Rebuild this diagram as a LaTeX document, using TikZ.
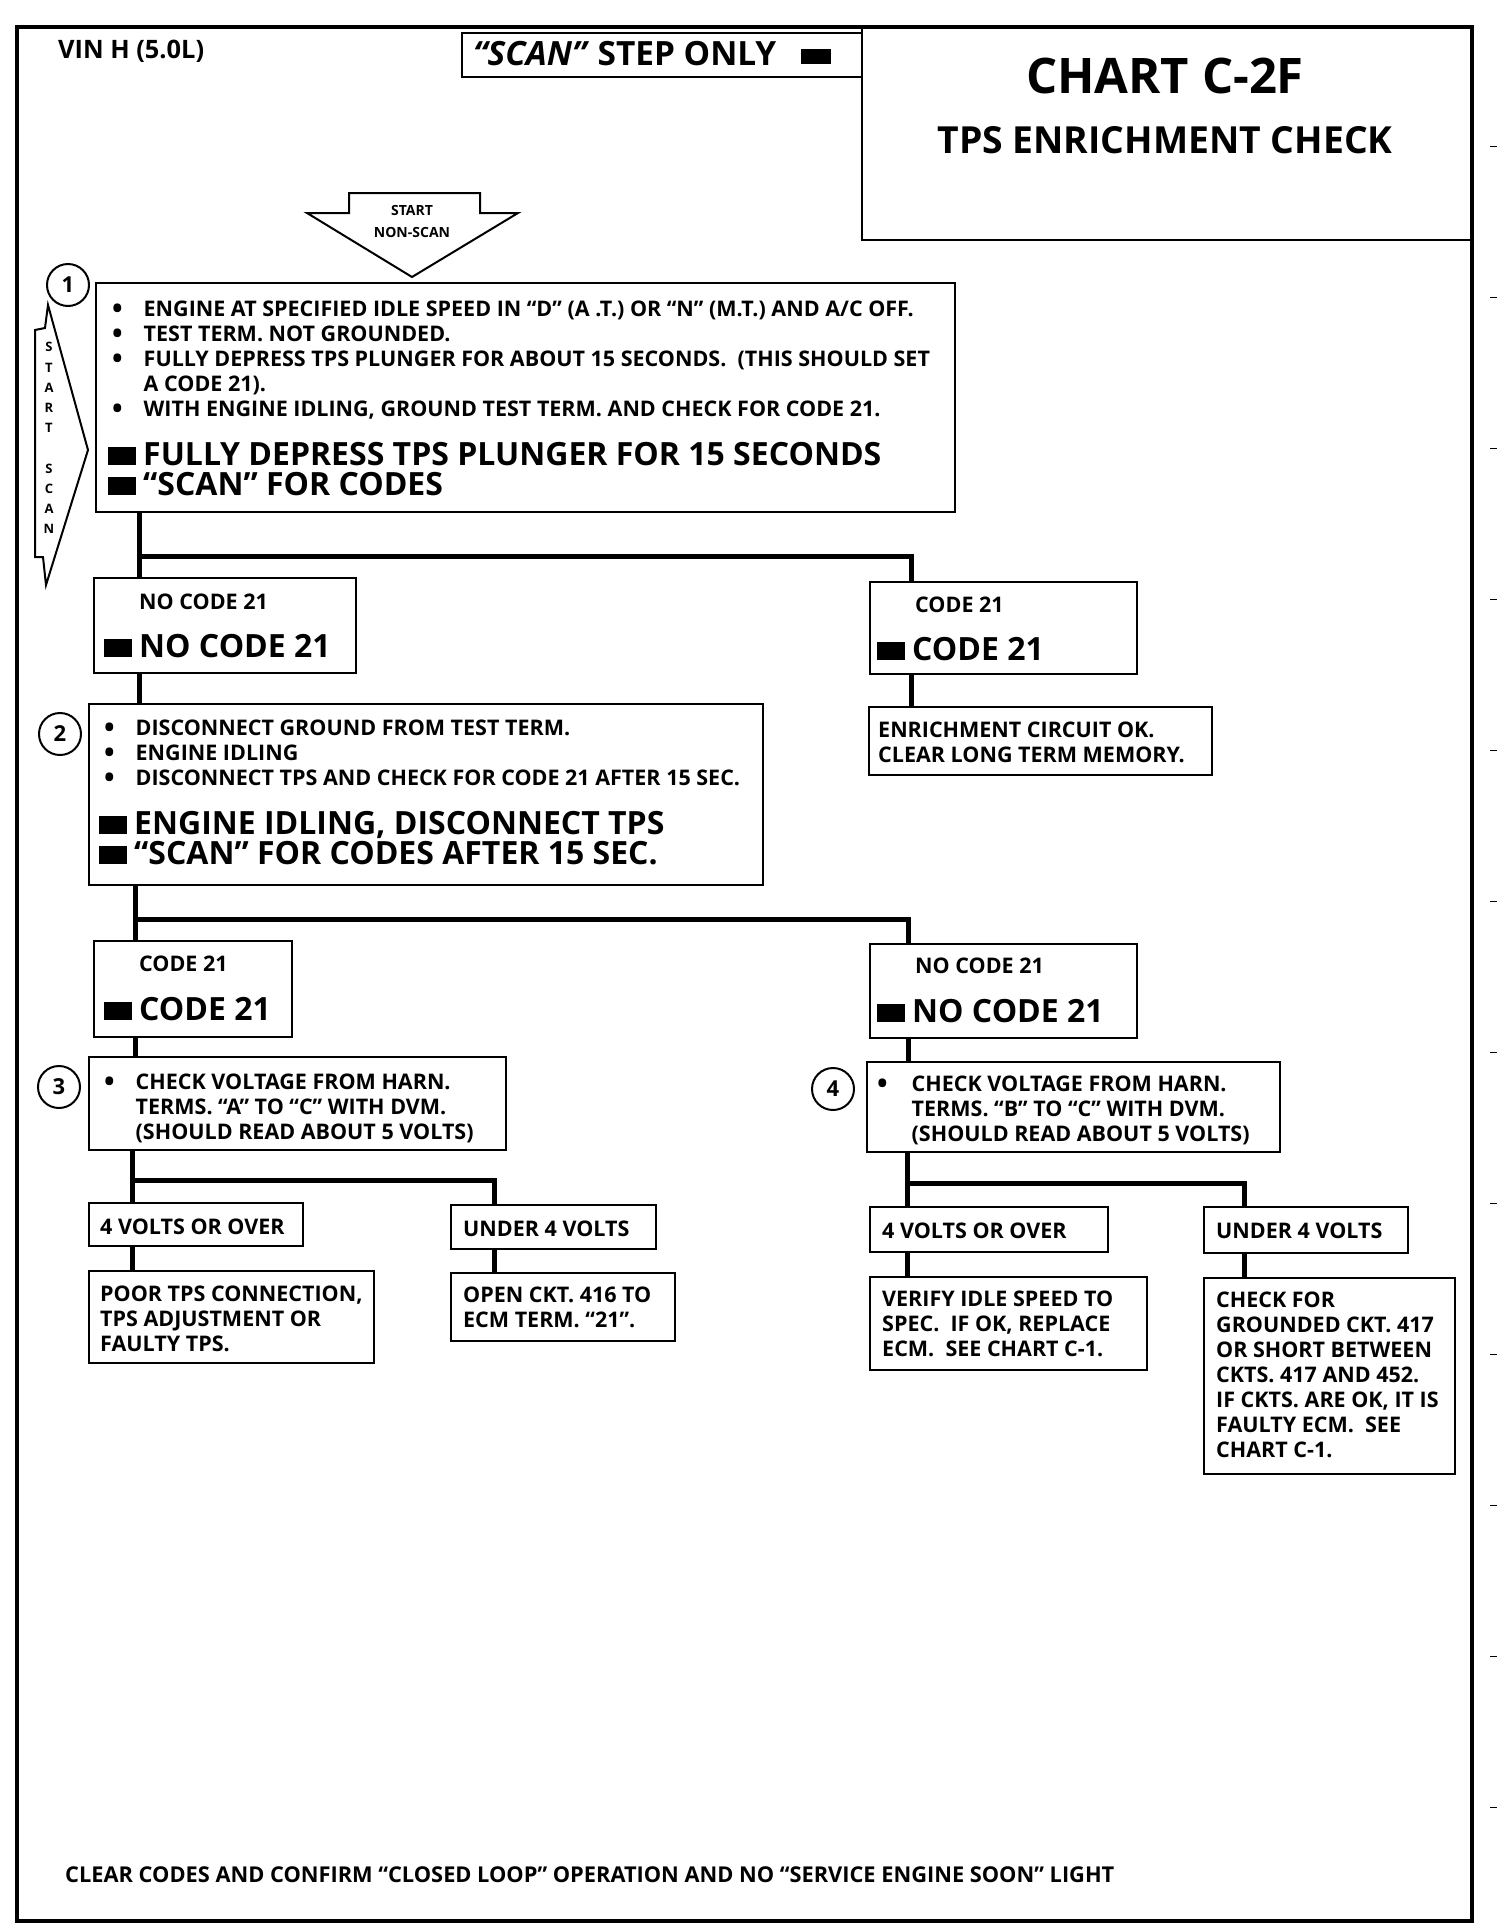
\documentclass[tikz,border=0pt]{standalone}
\usepackage{fontspec}
\setmainfont{Open Sans}
\usepackage{tikz}
\newcommand{\blk}{\rule{28pt}{18pt}\hspace{7pt}}
\newcommand{\bul}[1][30pt]{\makebox[#1][l]{\hspace{-1.5pt}\raisebox{-2pt}{\fontsize{28}{25}\selectfont\textbullet}}}

\begin{document}
\begin{tikzpicture}[x=1pt,y=-1pt,
  box/.style={draw, line width=2.5pt, anchor=north west, inner sep=0pt, outer sep=0pt},
  wire/.style={line width=5pt},
  sm/.style={anchor=base west, inner sep=0pt, align=left, font=\fontsize{21.5}{25}\selectfont\bfseries},
  lg/.style={anchor=base west, inner sep=0pt, align=left, font=\fontsize{32}{30}\selectfont\bfseries},
  num/.style={circle, draw, line width=2pt, minimum size=42pt, inner sep=0pt, font=\fontsize{22}{22}\selectfont\bfseries}]
\useasboundingbox (0,0) rectangle (1504,1930);
\fill[white] (0,0) rectangle (1504,1930);
% Frame
\draw[line width=4pt] (17,27) rectangle (1472,1921);
\foreach \i in {0,...,11}
  \draw[line width=1pt] (1490,146+151*\i) -- (1497,146+151*\i);
% Header
\node[anchor=base west, inner sep=0pt, font=\fontsize{25.4}{25}\selectfont\bfseries] (vin) at (58,58) {VIN H (5.0L)};
\node[box, minimum width=400pt, minimum height=44pt] (scanbox) at (462,33) {};
\node[anchor=base west, inner sep=0pt, font=\fontsize{33.4}{30}\selectfont\bfseries] (scanonly) at (473,65)
  {\textit{``SCAN''} STEP ONLY\hspace{25pt}\rule[1pt]{30pt}{15pt}};
\node[box, minimum width=610pt, minimum height=213pt] (chart) at (862,27) {};
\node[anchor=base, inner sep=0pt, font=\fontsize{49}{49}\selectfont\bfseries] (title) at (1165,93) {CHART C-2F};
\node[anchor=base, inner sep=0pt, font=\fontsize{37.3}{38}\selectfont\bfseries] (subtitle) at (1165,153) {TPS ENRICHMENT CHECK};
% Start arrows
\draw[line width=2pt] (349,193) -- (480,193) -- (480,213) -- (518,213) -- (412,277) -- (307,213) -- (349,213) -- cycle;
\node[align=center, inner sep=0pt, font=\fontsize{14}{22}\selectfont\bfseries] (nonscan) at (412,221) {START\\NON-SCAN};
\draw[line width=2pt] (48,305) -- (45,328) -- (35,330) -- (35,557) -- (43,557) -- (46,585) -- (88,450) -- cycle;
\node[align=center, inner sep=0pt, font=\fontsize{13}{20.2}\selectfont\bfseries] (startscan) at (49,438) {S\\T\\A\\R\\T\\[20.2pt]S\\C\\A\\N};
% Step 1
\node[num] (n1) at (68,285) {1};
\node[box, minimum width=859pt, minimum height=229pt] (b1) at (96,283) {};
\node[sm] (b1t) at (113.5,416) {\bul ENGINE AT SPECIFIED IDLE SPEED IN ``D'' (A .T.) OR ``N'' (M.T.) AND A/C OFF.\\
  \bul TEST TERM. NOT GROUNDED.\\
  \bul FULLY DEPRESS TPS PLUNGER FOR ABOUT 15 SECONDS.\ \ (THIS SHOULD SET\\
  \hspace*{30pt}A CODE 21).\\
  \bul WITH ENGINE IDLING, GROUND TEST TERM. AND CHECK FOR CODE 21.};
\node[lg] (b1s) at (108,495) {\blk FULLY DEPRESS TPS PLUNGER FOR 15 SECONDS\\\blk ``SCAN'' FOR CODES};
% Results of step 1
\node[box, minimum width=262pt, minimum height=95pt] (nc1) at (94,578) {};
\node[sm] (nc1t) at (139,609) {NO CODE 21};
\node[lg] (nc1s) at (104,657) {\blk NO CODE 21};
\node[box, minimum width=267pt, minimum height=92pt] (c1) at (870,582) {};
\node[sm] (c1t) at (915,612) {CODE 21};
\node[lg] (c1s) at (877,660) {\blk CODE 21};
\node[box, minimum width=343pt, minimum height=68pt] (en) at (869,707) {};
\node[sm] (ent) at (878,762) {ENRICHMENT CIRCUIT OK.\\CLEAR LONG TERM MEMORY.};
% Step 2
\node[num] (n2) at (60,734) {2};
\node[box, minimum width=674pt, minimum height=181pt] (b2) at (89,704) {};
\node[sm] (b2t) at (105.5,785) {\bul DISCONNECT GROUND FROM TEST TERM.\\
  \bul ENGINE IDLING\\
  \bul DISCONNECT TPS AND CHECK FOR CODE 21 AFTER 15 SEC.};
\node[lg] (b2s) at (99,864) {\blk ENGINE IDLING, DISCONNECT TPS\\\blk ``SCAN'' FOR CODES AFTER 15 SEC.};
% Results of step 2
\node[box, minimum width=198pt, minimum height=96pt] (c2) at (94,941) {};
\node[sm] (c2t) at (139,971) {CODE 21};
\node[lg] (c2s) at (104,1020) {\blk CODE 21};
\node[box, minimum width=267pt, minimum height=94pt] (nc2) at (870,944) {};
\node[sm] (nc2t) at (915,973) {NO CODE 21};
\node[lg] (nc2s) at (877,1022) {\blk NO CODE 21};
% Steps 3 and 4
\node[num] (n3) at (59,1087) {3};
\node[box, minimum width=417pt, minimum height=93pt] (b3) at (89,1057) {};
\node[sm] (b3t) at (105.5,1139) {\bul CHECK VOLTAGE FROM HARN.\\
  \hspace*{30pt}TERMS. ``A'' TO ``C'' WITH DVM.\\
  \hspace*{30pt}(SHOULD READ ABOUT 5 VOLTS)};
\node[num] (n4) at (833,1089) {4};
\node[box, minimum width=413pt, minimum height=90pt] (b4) at (867,1062) {};
\node[sm] (b4t) at (878.5,1141) {\bul[33pt]CHECK VOLTAGE FROM HARN.\\
  \hspace*{33pt}TERMS. ``B'' TO ``C'' WITH DVM.\\
  \hspace*{33pt}(SHOULD READ ABOUT 5 VOLTS)};
% Voltage results
\node[box, minimum width=214pt, minimum height=43pt] (v1) at (89,1203) {};
\node[sm] (v1t) at (100,1234) {4 VOLTS OR OVER};
\node[box, minimum width=205pt, minimum height=44pt] (u1) at (451,1205) {};
\node[sm] (u1t) at (463,1236) {UNDER 4 VOLTS};
\node[box, minimum width=238pt, minimum height=45pt] (v2) at (870,1207) {};
\node[sm] (v2t) at (882,1238) {4 VOLTS OR OVER};
\node[box, minimum width=204pt, minimum height=46pt] (u2) at (1204,1207) {};
\node[sm] (u2t) at (1216,1238) {UNDER 4 VOLTS};
% Conclusions
\node[box, minimum width=285pt, minimum height=92pt] (p1) at (89,1271) {};
\node[sm] (p1t) at (100,1351) {POOR TPS CONNECTION,\\TPS ADJUSTMENT OR\\FAULTY TPS.};
\node[box, minimum width=224pt, minimum height=68pt] (o1) at (451,1273) {};
\node[sm] (o1t) at (463,1327) {OPEN CKT. 416 TO\\ECM TERM. ``21''.};
\node[box, minimum width=277pt, minimum height=93pt] (vr) at (870,1277) {};
\node[sm] (vrt) at (882,1356) {VERIFY IDLE SPEED TO\\SPEC.\ \ IF OK, REPLACE\\ECM.\ \ SEE CHART C-1.};
\node[box, minimum width=251pt, minimum height=196pt] (ck) at (1204,1278) {};
\node[sm] (ckt) at (1216,1457) {CHECK FOR\\GROUNDED CKT. 417\\OR SHORT BETWEEN\\CKTS. 417 AND 452.\\IF CKTS. ARE OK, IT IS\\FAULTY ECM.\ \ SEE\\CHART C-1.};
% Connectors
\coordinate (j1) at (139,556);
\coordinate (k1) at (911,556);
\draw[wire] (b1.south -| j1) -- (j1) -- (k1) -- (c1.north -| k1);
\draw[wire] (j1) -- (nc1.north -| j1);
\draw[wire] (nc1.south -| j1) -- (b2.north -| j1);
\draw[wire] (c1.south -| k1) -- (en.north -| k1);
\coordinate (j2) at (135,919);
\coordinate (k2) at (908,919);
\draw[wire] (b2.south -| j2) -- (j2) -- (k2) -- (nc2.north -| k2);
\draw[wire] (j2) -- (c2.north -| j2);
\draw[wire] (c2.south -| j2) -- (b3.north -| j2);
\draw[wire] (nc2.south -| k2) -- (b4.north -| k2);
\coordinate (j3) at (132,1180);
\coordinate (k3) at (494,1180);
\draw[wire] (b3.south -| j3) -- (j3) -- (k3) -- (u1.north -| k3);
\draw[wire] (j3) -- (v1.north -| j3);
\draw[wire] (v1.south -| j3) -- (p1.north -| j3);
\draw[wire] (u1.south -| k3) -- (o1.north -| k3);
\coordinate (j4) at (907,1183);
\coordinate (k4) at (1244,1183);
\draw[wire] (b4.south -| j4) -- (j4) -- (k4) -- (u2.north -| k4);
\draw[wire] (j4) -- (v2.north -| j4);
\draw[wire] (v2.south -| j4) -- (vr.north -| j4);
\draw[wire] (u2.south -| k4) -- (ck.north -| k4);
% Footer
\node[anchor=base west, inner sep=0pt, font=\fontsize{21.8}{22}\selectfont\bfseries] (foot) at (65,1882)
  {CLEAR CODES AND CONFIRM ``CLOSED LOOP'' OPERATION AND NO ``SERVICE ENGINE SOON'' LIGHT};
\end{tikzpicture}
\end{document}
